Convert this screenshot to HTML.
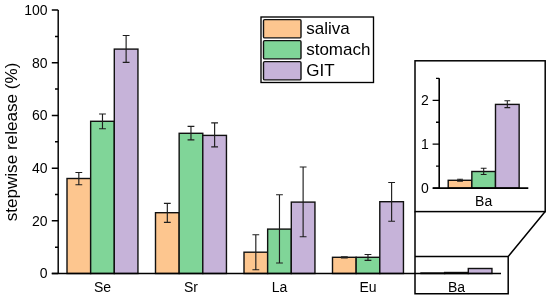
<!DOCTYPE html><html><head><meta charset="utf-8"><style>html,body{margin:0;padding:0;background:#fff;width:550px;height:300px;overflow:hidden}svg{display:block;will-change:transform}text{font-family:"Liberation Sans",sans-serif;fill:#000}</style></head><body>
<svg width="550" height="300" viewBox="0 0 550 300">
<rect x="67.00" y="178.50" width="23.65" height="95.00" fill="#FDC68F" stroke="#111" stroke-width="1.4"/>
<path d="M78.83 172.50V184.70M75.42 172.50H82.23M75.42 184.70H82.23" stroke="#1e1e1e" stroke-width="1.15" fill="none"/>
<rect x="90.65" y="121.30" width="23.65" height="152.20" fill="#80D598" stroke="#111" stroke-width="1.4"/>
<path d="M102.48 114.00V128.70M99.08 114.00H105.88M99.08 128.70H105.88" stroke="#1e1e1e" stroke-width="1.15" fill="none"/>
<rect x="114.30" y="49.10" width="23.65" height="224.40" fill="#C6B3D9" stroke="#111" stroke-width="1.4"/>
<path d="M126.12 35.50V62.40M122.72 35.50H129.53M122.72 62.40H129.53" stroke="#1e1e1e" stroke-width="1.15" fill="none"/>
<text x="102.47" y="292.0" font-size="14" text-anchor="middle">Se</text>
<rect x="155.50" y="212.70" width="23.65" height="60.80" fill="#FDC68F" stroke="#111" stroke-width="1.4"/>
<path d="M167.32 203.30V222.30M163.92 203.30H170.72M163.92 222.30H170.72" stroke="#1e1e1e" stroke-width="1.15" fill="none"/>
<rect x="179.15" y="133.30" width="23.65" height="140.20" fill="#80D598" stroke="#111" stroke-width="1.4"/>
<path d="M190.97 126.40V139.80M187.57 126.40H194.38M187.57 139.80H194.38" stroke="#1e1e1e" stroke-width="1.15" fill="none"/>
<rect x="202.80" y="135.40" width="23.65" height="138.10" fill="#C6B3D9" stroke="#111" stroke-width="1.4"/>
<path d="M214.62 122.90V146.90M211.22 122.90H218.03M211.22 146.90H218.03" stroke="#1e1e1e" stroke-width="1.15" fill="none"/>
<text x="190.97" y="292.0" font-size="14" text-anchor="middle">Sr</text>
<rect x="244.00" y="252.20" width="23.65" height="21.30" fill="#FDC68F" stroke="#111" stroke-width="1.4"/>
<path d="M255.82 234.70V269.70M252.42 234.70H259.22M252.42 269.70H259.22" stroke="#1e1e1e" stroke-width="1.15" fill="none"/>
<rect x="267.65" y="229.10" width="23.65" height="44.40" fill="#80D598" stroke="#111" stroke-width="1.4"/>
<path d="M279.47 194.70V263.00M276.07 194.70H282.87M276.07 263.00H282.87" stroke="#1e1e1e" stroke-width="1.15" fill="none"/>
<rect x="291.30" y="202.10" width="23.65" height="71.40" fill="#C6B3D9" stroke="#111" stroke-width="1.4"/>
<path d="M303.12 167.00V236.70M299.73 167.00H306.52M299.73 236.70H306.52" stroke="#1e1e1e" stroke-width="1.15" fill="none"/>
<text x="279.48" y="292.0" font-size="14" text-anchor="middle">La</text>
<rect x="332.50" y="257.30" width="23.65" height="16.20" fill="#FDC68F" stroke="#111" stroke-width="1.4"/>
<path d="M344.32 256.80V257.80M340.93 256.80H347.72M340.93 257.80H347.72" stroke="#1e1e1e" stroke-width="1.15" fill="none"/>
<rect x="356.15" y="257.30" width="23.65" height="16.20" fill="#80D598" stroke="#111" stroke-width="1.4"/>
<path d="M367.97 254.50V260.30M364.57 254.50H371.37M364.57 260.30H371.37" stroke="#1e1e1e" stroke-width="1.15" fill="none"/>
<rect x="379.80" y="201.70" width="23.65" height="71.80" fill="#C6B3D9" stroke="#111" stroke-width="1.4"/>
<path d="M391.62 182.50V221.20M388.23 182.50H395.02M388.23 221.20H395.02" stroke="#1e1e1e" stroke-width="1.15" fill="none"/>
<text x="367.98" y="292.0" font-size="14" text-anchor="middle">Eu</text>
<rect x="421.00" y="273.00" width="23.65" height="0.50" fill="#FDC68F" stroke="#111" stroke-width="1.4"/>
<rect x="444.65" y="272.50" width="23.65" height="1.00" fill="#80D598" stroke="#111" stroke-width="1.4"/>
<rect x="468.30" y="268.50" width="23.65" height="5.00" fill="#C6B3D9" stroke="#111" stroke-width="1.4"/>
<path d="M58.2 10V273.5M51.8 273.5H501" stroke="#000" stroke-width="1.45" fill="none"/>
<path d="M51.80 273.50H58.2M55.00 247.16H58.2M51.80 220.82H58.2M55.00 194.48H58.2M51.80 168.14H58.2M55.00 141.80H58.2M51.80 115.46H58.2M55.00 89.12H58.2M51.80 62.78H58.2M55.00 36.44H58.2M51.80 10.10H58.2" stroke="#000" stroke-width="1.5" fill="none"/>
<text x="47.6" y="278.30" font-size="14" text-anchor="end">0</text>
<text x="47.6" y="225.62" font-size="14" text-anchor="end">20</text>
<text x="47.6" y="172.94" font-size="14" text-anchor="end">40</text>
<text x="47.6" y="120.26" font-size="14" text-anchor="end">60</text>
<text x="47.6" y="67.58" font-size="14" text-anchor="end">80</text>
<text x="47.6" y="14.90" font-size="14" text-anchor="end">100</text>
<text transform="translate(16.7 142.0) rotate(-90)" font-size="17.1" text-anchor="middle">stepwise release (%)</text>
<rect x="261.0" y="17.0" width="112.5" height="65.5" fill="#fff" stroke="#000" stroke-width="1.35"/>
<rect x="263.5" y="19.60" width="37.5" height="18.25" rx="1.2" fill="#FDC68F" stroke="#111" stroke-width="1.4"/>
<text x="306.2" y="34.00" font-size="17">saliva</text>
<rect x="263.5" y="40.60" width="37.5" height="18.25" rx="1.2" fill="#80D598" stroke="#111" stroke-width="1.4"/>
<text x="306.2" y="55.00" font-size="17">stomach</text>
<rect x="263.5" y="61.60" width="37.5" height="18.25" rx="1.2" fill="#C6B3D9" stroke="#111" stroke-width="1.4"/>
<text x="306.2" y="76.00" font-size="17">GIT</text>
<path d="M415 256.5H508.2V293.7H415Z M415 211.6V256.5 M508.2 256.5L545.2 211.6" stroke="#000" stroke-width="1.5" fill="none"/>
<text x="456.5" y="291.6" font-size="14" text-anchor="middle">Ba</text>
<rect x="415" y="60.8" width="130.2" height="150.8" fill="#fff" stroke="#000" stroke-width="1.5"/>
<rect x="448.20" y="180.30" width="23.65" height="7.80" fill="#FDC68F" stroke="#111" stroke-width="1.4"/>
<path d="M460.02 179.30V181.30M457.12 179.30H462.92M457.12 181.30H462.92" stroke="#1e1e1e" stroke-width="1.1" fill="none"/>
<rect x="471.85" y="171.50" width="23.65" height="16.60" fill="#80D598" stroke="#111" stroke-width="1.4"/>
<path d="M483.67 168.30V174.50M480.77 168.30H486.57M480.77 174.50H486.57" stroke="#1e1e1e" stroke-width="1.1" fill="none"/>
<rect x="495.50" y="104.40" width="23.65" height="83.70" fill="#C6B3D9" stroke="#111" stroke-width="1.4"/>
<path d="M507.32 100.80V107.60M504.43 100.80H510.22M504.43 107.60H510.22" stroke="#1e1e1e" stroke-width="1.1" fill="none"/>
<path d="M439.2 78.3V188.1M432.8 188.1H528.3" stroke="#000" stroke-width="1.6" fill="none"/>
<path d="M432.60 188.10H439.2M436.00 166.15H439.2M432.60 144.20H439.2M436.00 122.25H439.2M432.60 100.30H439.2M436.00 78.35H439.2" stroke="#000" stroke-width="1.3" fill="none"/>
<text x="428.9" y="192.60" font-size="14" text-anchor="end">0</text>
<text x="428.9" y="148.70" font-size="14" text-anchor="end">1</text>
<text x="428.9" y="104.80" font-size="14" text-anchor="end">2</text>
<text x="483.67" y="205.7" font-size="14" text-anchor="middle">Ba</text>
</svg></body></html>
